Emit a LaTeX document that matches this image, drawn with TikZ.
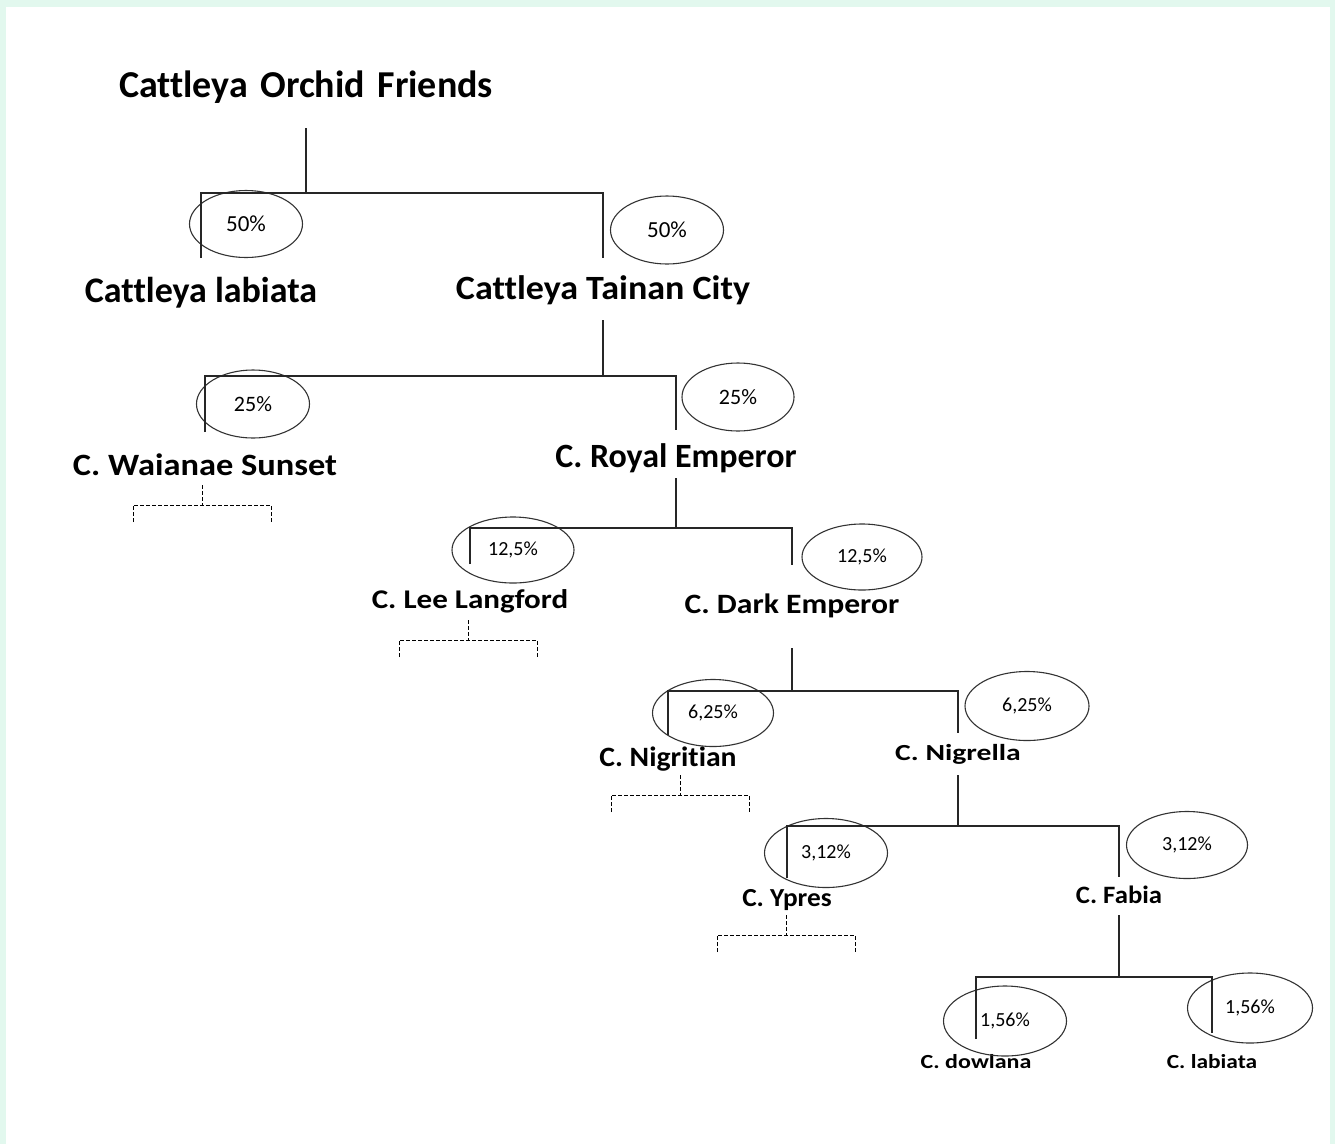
\documentclass[tikz,border=0pt]{standalone}
\usepackage{fontspec}
\setmainfont{Carlito}[Ligatures=NoCommon]
\usetikzlibrary{shapes.geometric}
\definecolor{mint}{RGB}{226,248,238}
\tikzset{
  plant/.style 2 args={font=\fontsize{#1}{#1}\selectfont\bfseries\addfontfeatures{FakeStretch=#2}, inner sep=0pt, anchor=base},
  pct/.style 2 args={draw=black!80, line width=1.1pt, ellipse, inner sep=0pt,
    minimum width=#1, minimum height=#2, font=\fontsize{20}{20}\selectfont},
  link/.style={line width=1.3pt, black!85},
  stub/.pic={\draw[line width=0.9pt, dash pattern=on 4pt off 2pt]
    (0,0) -- (0,20) (-69,37) -- (-69,20) -- (69,20) -- (69,37);}
}
\begin{document}
\begin{tikzpicture}[x=1pt, y=-1pt]
	\useasboundingbox (0,0) rectangle (1335,1144);
	\fill[mint] (0,0) rectangle (1335,1144);
	\fill[white] (6,7) rectangle (1330,1144);
	% names
	\node[plant={38}{1}] (title) at (306,97) {Cattleya\hspace{4pt} Orchid\hspace{4pt} Friends};
	\node[plant={36}{1}] (lab) at (201,302) {Cattleya labiata};
	\node[plant={34}{1.06}] (tc) at (603,299) {Cattleya Tainan City};
	\node[plant={31}{1.11}] (ws) at (205,475) {C. Waianae Sunset};
	\node[plant={34}{1}] (re) at (676,467) {C. Royal Emperor};
	\node[plant={27}{1.15}] (ll) at (470,608) {C. Lee Langford};
	\node[plant={28}{1.13}] (de) at (792,613) {C. Dark Emperor};
	\node[plant={28}{1.06}] (ng) at (668,766) {C. Nigritian};
	\node[plant={23}{1.29}] (nl) at (958,760) {C. Nigrella};
	\node[plant={26}{1.05}] (yp) at (787,906) {C. Ypres};
	\node[plant={25}{1.07}] (fb) at (1119,903) {C. Fabia};
	\node[plant={20}{1.2}] (dw) at (976,1068) {C. dowlana};
	\node[plant={20}{1.17}] (lb) at (1212,1068) {C. labiata};
	% shares
	\node[pct={113pt}{67pt}, font=\fontsize{23}{23}\selectfont] (p1a) at (246,224) {50\%};
	\node[pct={113pt}{68pt}, font=\fontsize{23}{23}\selectfont] (p1b) at (667,230) {50\%};
	\node[pct={113pt}{68pt}, font=\fontsize{22}{22}\selectfont] (p2a) at (253,404) {25\%};
	\node[pct={112pt}{68pt}, font=\fontsize{22}{22}\selectfont] (p2b) at (738,397) {25\%};
	\node[pct={122pt}{66pt}] (p3a) at (513,550) {12,5\%};
	\node[pct={120pt}{66pt}] (p3b) at (862,557) {12,5\%};
	\node[pct={121pt}{67pt}] (p4a) at (713,713) {6,25\%};
	\node[pct={124pt}{69pt}] (p4b) at (1027,706) {6,25\%};
	\node[pct={123pt}{69pt}] (p5a) at (826,853) {3,12\%};
	\node[pct={121pt}{67pt}] (p5b) at (1187,845) {3,12\%};
	\node[pct={123pt}{70pt}] (p6a) at (1005,1021) {1,56\%};
	\node[pct={125pt}{70pt}] (p6b) at (1250,1008) {1,56\%};
	% tree
	\coordinate (j1) at (title |- 0,193);
	\draw[link] (title |- 0,128) -- (j1);
	\draw[link] (lab |- 0,258) |- (j1) -| (tc |- 0,258);
	\coordinate (j2) at (tc |- 0,376);
	\draw[link] (tc |- 0,320) -- (j2);
	\draw[link] (ws |- 0,432) |- (j2) -| (re |- 0,430);
	\coordinate (j3) at (re |- 0,528);
	\draw[link] (re |- 0,478) -- (j3);
	\draw[link] (ll |- 0,564) |- (j3) -| (de |- 0,565);
	\coordinate (j4) at (de |- 0,691);
	\draw[link] (de |- 0,648) -- (j4);
	\draw[link] (ng |- 0,735) |- (j4) -| (nl |- 0,733);
	\coordinate (j5) at (nl |- 0,826);
	\draw[link] (nl |- 0,775) -- (j5);
	\draw[link] (yp |- 0,878) |- (j5) -| (fb |- 0,877);
	\coordinate (j6) at (fb |- 0,977);
	\draw[link] (fb |- 0,915) -- (j6);
	\draw[link] (dw |- 0,1039) |- (j6) -| (lb |- 0,1033);
	% unknown parents
	\pic at (202,485) {stub};
	\pic at (468,620) {stub};
	\pic at (680,775) {stub};
	\pic at (786,915) {stub};
\end{tikzpicture}
\end{document}
